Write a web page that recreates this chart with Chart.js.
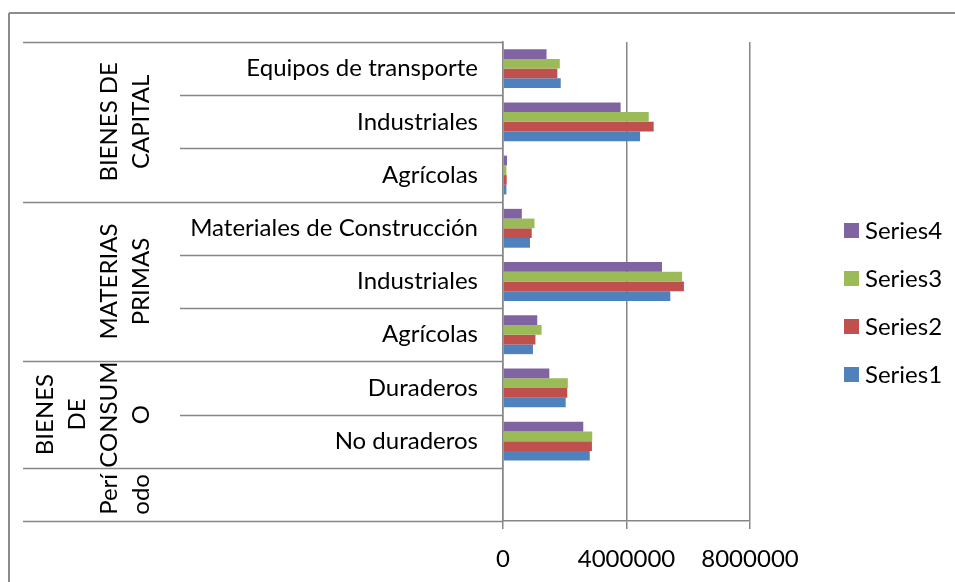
<html><head>
<meta charset="utf-8">
<style>body{margin:0;background:#fff}</style>
</head>
<body>
<script src="https://cdn.jsdelivr.net/npm/chart.js@4.4.0/dist/chart.umd.min.js"></script>
<canvas id="myChart" width="955" height="582"></canvas>
<script>
// inner categories, top to bottom
categories = ['Equipos de transporte', 'Industriales', 'Agrícolas',
  'Materiales de Construcción', 'Industriales', 'Agrícolas',
  'Duraderos', 'No duraderos', ''];
// outer groups: label lines and how many categories they cover
groupLabels = [['BIENES DE', 'CAPITAL'], ['MATERIAS', 'PRIMAS'], ['BIENES', 'DE', 'CONSUM', 'O'], ['Perí', 'odo']];
groupSizes = [3, 3, 2, 1];

series1 = [1870000, 4440000, 110000, 875000, 5420000, 970000, 2030000, 2810000, null];
series2 = [1760000, 4880000, 120000, 930000, 5860000, 1050000, 2080000, 2880000, null];
series3 = [1840000, 4720000, 110000, 1020000, 5800000, 1250000, 2100000, 2890000, null];
series4 = [1410000, 3810000, 130000, 610000, 5150000, 1110000, 1500000, 2600000, null];
xTicks = [0, 4000000, 8000000];

FONT = 'Lato';
FSIZE = 24;
GRAY = '#868686';

extras = {
  id: 'extras',
  beforeDraw(chart) {
    ctx = chart.ctx;
    ctx.save();
    ctx.strokeStyle = '#8c8c8c';
    ctx.lineWidth = 2;
    ctx.beginPath();
    ctx.moveTo(9, 13); ctx.lineTo(955, 13);
    ctx.moveTo(9, 13); ctx.lineTo(9, 582);
    ctx.stroke();
    ctx.restore();
  },
  afterDraw(chart) {
    ctx = chart.ctx;
    a = chart.chartArea;
    n = categories.length;
    step = (a.bottom - a.top) / n;
    // group boundaries
    bounds = [0];
    s = 0;
    groupSizes.forEach(g => { s += g; bounds.push(s); });
    ctx.save();
    ctx.strokeStyle = GRAY;
    ctx.lineWidth = 1.5;
    ctx.beginPath();
    for (let i = 0; i <= n; i++) {
      y = Math.round(a.top + i * step) + 0.5;
      x0 = bounds.indexOf(i) >= 0 ? 23 : 180;
      ctx.moveTo(x0, y); ctx.lineTo(a.left, y);
    }
    ctx.stroke();
    // group labels, rotated
    ctx.fillStyle = '#000';
    ctx.font = FSIZE + 'px ' + FONT;
    ctx.textAlign = 'center';
    ctx.textBaseline = 'middle';
    for (let g = 0; g < groupLabels.length; g++) {
      yc = a.top + (bounds[g] + bounds[g + 1]) / 2 * step;
      lines = groupLabels[g];
      for (let k = 0; k < lines.length; k++) {
        xc = 140 - (lines.length - 1 - k) * 32;
        ctx.save();
        ctx.translate(xc, yc);
        ctx.rotate(-Math.PI / 2);
        ctx.fillText(lines[k], 0, 1);
        ctx.restore();
      }
    }
    // legend
    ctx.textAlign = 'left';
    chart.data.datasets.forEach((d, i) => {
      yc = 230 + i * 48;
      ctx.fillStyle = d.backgroundColor;
      ctx.fillRect(844, yc - 7, 15, 15);
      ctx.fillStyle = '#000';
      ctx.fillText(d.label, 865, yc + 1);
    });
    ctx.restore();
  }
};

ctx = document.getElementById('myChart').getContext('2d');
myChart = new Chart(ctx, {
  type: 'bar',
  data: {
    labels: categories,
    datasets: [
      { label: 'Series4', data: series4, backgroundColor: '#8064A2' },
      { label: 'Series3', data: series3, backgroundColor: '#9BBB59' },
      { label: 'Series2', data: series2, backgroundColor: '#C0504D' },
      { label: 'Series1', data: series1, backgroundColor: '#4F81BD' }
    ]
  },
  plugins: [extras],
  options: {
    responsive: false,
    animation: false,
    indexAxis: 'y',
    layout: { padding: { left: 0, top: 42, right: 205, bottom: 0 } },
    datasets: { bar: { barPercentage: 1, categoryPercentage: 0.73 } },
    plugins: { legend: { display: false }, tooltip: { enabled: false } },
    scales: {
      x: {
        min: 0, max: 8000000,
        afterFit(s) { s.height = 61; },
        afterBuildTicks(s) { s.ticks = xTicks.map(v => ({ value: v })); },
        ticks: { padding: 16, color: '#000', font: { family: FONT, size: FSIZE }, callback: v => String(v), maxRotation: 0 },
        grid: { color: GRAY, lineWidth: 1.5, tickLength: 8 },
        border: { color: GRAY, width: 1.5 }
      },
      y: {
        afterFit(s) { s.width = 503; },
        ticks: { padding: 17, color: '#000', font: { family: FONT, size: FSIZE } },
        grid: { display: false },
        border: { color: GRAY, width: 1.5 }
      }
    }
  }
});
</script>
</body>
</html>
